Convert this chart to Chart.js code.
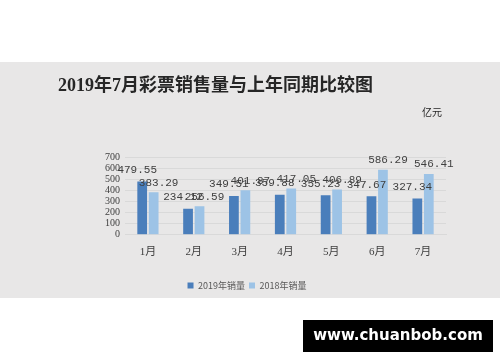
<!DOCTYPE html>
<html>
<head>
<meta charset="utf-8">
<script src="https://cdn.jsdelivr.net/npm/chart.js@4/dist/chart.umd.min.js"></script>
<style>
  html, body { margin: 0; padding: 0; background: #fff; }
  #wrap { width: 500px; height: 362px; }
</style>
</head>
<body>
<div id="wrap"><canvas id="c" width="500" height="362"></canvas></div>
<script>
const months = ["1月", "2月", "3月", "4月", "5月", "6月", "7月"];
const sales2019 = [479.55, 234.12, 349.51, 359.88, 355.23, 347.67, 327.34];
const sales2018 = [383.29, 256.59, 401.87, 417.05, 406.89, 586.29, 546.41];
const yTicks = [0, 100, 200, 300, 400, 500, 600, 700];

const cjk = '"Liberation Serif", "Noto Sans CJK SC", serif';

// gray panel, title, unit and the watermark box
const decor = {
  id: "decor",
  beforeDraw(chart) {
    const c = chart.ctx;
    c.save();
    c.fillStyle = "#fff";
    c.fillRect(0, 0, chart.width, chart.height);
    c.fillStyle = "#e8e7e7";
    c.fillRect(0, 62, chart.width, 236);
    c.fillStyle = "#262626";
    c.font = 'bold 18px ' + cjk;
    c.textBaseline = "middle";
    c.fillText("2019年7月彩票销售量与上年同期比较图", 58, 86);
    c.font = '10px "Noto Sans CJK SC", sans-serif';
    c.fillText("亿元", 422, 112);
    c.restore();
  },
  afterDraw(chart) {
    const c = chart.ctx;
    c.save();
    c.fillStyle = "#000";
    c.fillRect(303, 320, 190, 32);
    c.fillStyle = "#fff";
    c.font = 'bold 15px "DejaVu Sans", sans-serif';
    c.textAlign = "center";
    c.textBaseline = "middle";
    c.fillText("www.chuanbob.com", 398, 336);
    c.restore();
  }
};

// value labels above the bars
const barLabels = {
  id: "barLabels",
  afterDatasetsDraw(chart) {
    const c = chart.ctx;
    c.save();
    c.font = '11px "Liberation Mono", monospace';
    c.fillStyle = "#404040";
    c.textAlign = "center";
    c.textBaseline = "bottom";
    chart.data.datasets.forEach((ds, i) => {
      chart.getDatasetMeta(i).data.forEach((bar, j) => {
        const dx = i === 0 ? -5 : 5;
        const dy = i === 0 ? 6 : 4;
        c.fillText(ds.data[j].toFixed(2), bar.x + dx, bar.y - dy);
      });
    });
    c.restore();
  }
};

new Chart(document.getElementById("c"), {
  type: "bar",
  data: {
    labels: months,
    datasets: [
      { label: "2019年销量", data: sales2019, backgroundColor: "#4a7ebb" },
      { label: "2018年销量", data: sales2018, backgroundColor: "#9dc3e6" }
    ]
  },
  options: {
    responsive: false,
    animation: false,
    layout: { padding: { left: 48, right: 54, top: 157, bottom: 62 } },
    datasets: { bar: { categoryPercentage: 0.5, barPercentage: 0.85 } },
    plugins: {
      legend: {
        position: "bottom",
        labels: {
          boxWidth: 6, boxHeight: 6, padding: 4,
          color: "#595959",
          font: { size: 9, family: '"Noto Sans CJK SC", sans-serif' }
        }
      },
      tooltip: { enabled: false }
    },
    scales: {
      x: {
        grid: { display: false },
        border: { color: "#d9d9d9" },
        ticks: { color: "#404040", font: { size: 11, family: cjk } },
        afterFit(scale) { scale.height += 15; }
      },
      y: {
        min: 0, max: 700,
        afterBuildTicks(axis) { axis.ticks = yTicks.map(v => ({ value: v })); },
        afterFit(scale) { scale.width += 52; },
        grid: { color: "#d9d9d9", drawTicks: false },
        border: { display: false },
        ticks: { autoSkip: false, color: "#404040", padding: 5, font: { size: 10, family: cjk } }
      }
    }
  },
  plugins: [decor, barLabels]
});
</script>
</body>
</html>
